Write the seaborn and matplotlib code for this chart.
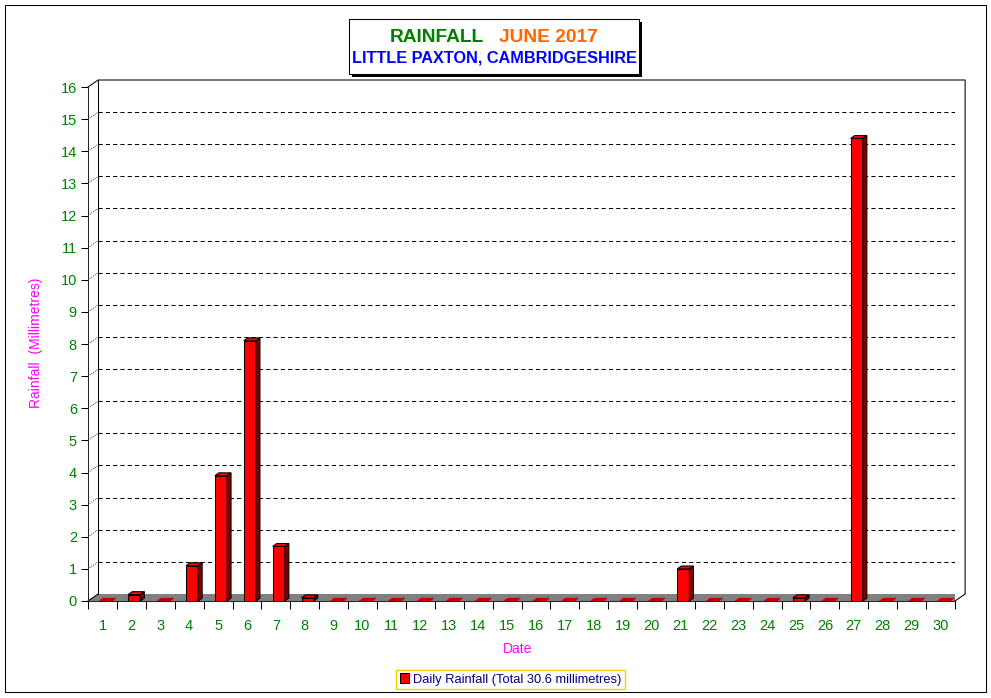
import numpy as np
import matplotlib
matplotlib.use('Agg')
import matplotlib.pyplot as plt
from matplotlib.patches import Polygon, Rectangle, Patch
import seaborn as sns

# ------------------------------------------------------------
# Data: daily rainfall, Little Paxton, June 2017 (mm)
# ------------------------------------------------------------
days = list(range(1, 31))
rainfall = [0.0, 0.2, 0.0, 1.1, 3.9, 8.1, 1.7, 0.1, 0.0, 0.0,
            0.0, 0.0, 0.0, 0.0, 0.0, 0.0, 0.0, 0.0, 0.0, 0.0,
            1.0, 0.0, 0.0, 0.0, 0.1, 0.0, 14.4, 0.0, 0.0, 0.0]
y_ticks = list(range(0, 17))
total = sum(rainfall)

sns.set_style('white')
plt.rcParams['font.family'] = ['Liberation Sans', 'DejaVu Sans']

W, H = 991, 698
fig = plt.figure(figsize=(W / 100, H / 100), dpi=100)

# depth of the "3d" wall (data units)
DX, DY = 0.35, 0.218
# depth of each bar
BDX, BDY = 0.14, 0.09

ax = fig.add_axes([88 / W, 1 - 601 / H, (955 - 88) / W, (601 - 80) / H])
ax.set_xlim(-0.5, 29.5 + DX)
ax.set_ylim(0, 16 + DY)

sns.barplot(x=days, y=rainfall, color='#FF0000', width=0.42, saturation=1,
            edgecolor='black', linewidth=0.75, ax=ax, zorder=4)

# floor + walls
ax.add_patch(Polygon([(-0.5, 0), (29.5, 0), (29.5 + DX, DY), (-0.5 + DX, DY)],
                     closed=True, facecolor='#808080', edgecolor='none', zorder=2))
line_kw = dict(color='black', lw=0.75, clip_on=False, zorder=3)
ax.plot([-0.5, -0.5 + DX], [0, DY], **line_kw)
ax.plot([29.5, 29.5 + DX], [0, DY], **line_kw)
ax.plot([-0.5 + DX, -0.5 + DX], [DY, 16 + DY], **line_kw)
ax.plot([-0.5, -0.5 + DX, 29.5 + DX, 29.5 + DX], [16, 16 + DY, 16 + DY, DY], **line_kw)
for k in y_ticks[1:-1]:
    ax.plot([-0.5 + DX, 29.5 + DX], [k + DY, k + DY], color='black', lw=0.75,
            ls=(0, (4, 3)), zorder=1)
    ax.plot([-0.5, -0.5 + DX], [k, k + DY], color='black', lw=0.6, ls=(0, (1, 1.5)), zorder=1)

# give each bar a side and top face
for p in list(ax.patches):
    if not isinstance(p, Rectangle):
        continue
    p.set_x(p.get_x() + 0.1)
    x0, w, h = p.get_x(), p.get_width(), p.get_height()
    side = [(x0 + w, 0), (x0 + w + BDX, BDY), (x0 + w + BDX, h + BDY), (x0 + w, h)]
    top = [(x0, h), (x0 + BDX, h + BDY), (x0 + w + BDX, h + BDY), (x0 + w, h)]
    ax.add_patch(Polygon(side, closed=True, facecolor='#800000', edgecolor='black',
                         lw=0.75, zorder=5))
    if h > 0:
        ax.add_patch(Polygon(top, closed=True, facecolor='#FF0000', edgecolor='black',
                             lw=0.75, zorder=5))
    else:
        ax.add_patch(Polygon(top, closed=True, facecolor='#A00000', edgecolor='#FF0000',
                             lw=0.6, zorder=5))

# axes styling
for s in ['top', 'right']:
    ax.spines[s].set_visible(False)
ax.spines['left'].set_bounds(0, 16)
ax.spines['bottom'].set_bounds(-0.5, 29.5)
for s in ['left', 'bottom']:
    ax.spines[s].set_linewidth(0.75)
    ax.spines[s].set_zorder(6)
ax.set_yticks(y_ticks)
ax.tick_params(axis='y', direction='out', length=5, width=0.75, color='black',
               labelcolor='#008000', labelsize=10.5, pad=3, left=True)
ax.set_xticks(range(30))
ax.set_xticklabels([str(d) for d in days])
ax.set_xticks(np.arange(-0.5, 30, 1), minor=True)
ax.tick_params(axis='x', which='major', length=0, pad=13, labelcolor='#008000', labelsize=10.5)
ax.tick_params(axis='x', which='minor', direction='out', length=6, width=0.75,
               color='black', bottom=True)
ax.set_xlabel('Date', color='#FF00FF', fontsize=10)
ax.xaxis.set_label_coords((518 - 88) / 867, -(642 - 601) / 521)
ax.set_ylabel('Rainfall  (Millimetres)', color='#FF00FF', fontsize=10)
ax.yaxis.set_label_coords((43 - 88) / 867, (601 - 343) / 521)
ax.grid(False)

# overlay for frame, title box, legend
ov = fig.add_axes([0, 0, 1, 1], zorder=-1)
ov.set_xlim(0, W)
ov.set_ylim(H, 0)
ov.axis('off')
ov.add_patch(Rectangle((5, 5), 981, 687, fill=False, edgecolor='black', lw=0.75))

top_ax = fig.add_axes([0, 0, 1, 1], zorder=10)
top_ax.set_xlim(0, W)
top_ax.set_ylim(H, 0)
top_ax.axis('off')
top_ax.add_patch(Rectangle((352, 22), 290, 55, facecolor='black', edgecolor='none'))
top_ax.add_patch(Rectangle((349, 19), 290, 55, facecolor='white', edgecolor='black', lw=0.75))
top_ax.text(437, 37, 'RAINFALL', color='#008000', fontsize=13.8, fontweight='bold',
            ha='center', va='center')
top_ax.text(548, 37, 'JUNE 2017', color='#FF6600', fontsize=13.8, fontweight='bold',
            ha='center', va='center')
top_ax.text(494, 58, 'LITTLE PAXTON, CAMBRIDGESHIRE', color='#0000FF', fontsize=11.7,
            fontweight='bold', ha='center', va='center')

handle = Patch(facecolor='#FF0000', edgecolor='black', lw=0.75)
leg = top_ax.legend([handle], [f'Daily Rainfall (Total {total:.1f} millimetres)'],
                    loc='center', bbox_to_anchor=(510.5 / W, 1 - 679.5 / H),
                    bbox_transform=fig.transFigure, fancybox=False, framealpha=1,
                    edgecolor='#FFCC00', fontsize=9.3, handlelength=0.7, handleheight=0.7,
                    handletextpad=0.3, borderpad=0.3, borderaxespad=0)
leg.get_frame().set_linewidth(1)
for t in leg.get_texts():
    t.set_color('#000080')

fig.savefig('out.png', dpi=100)
